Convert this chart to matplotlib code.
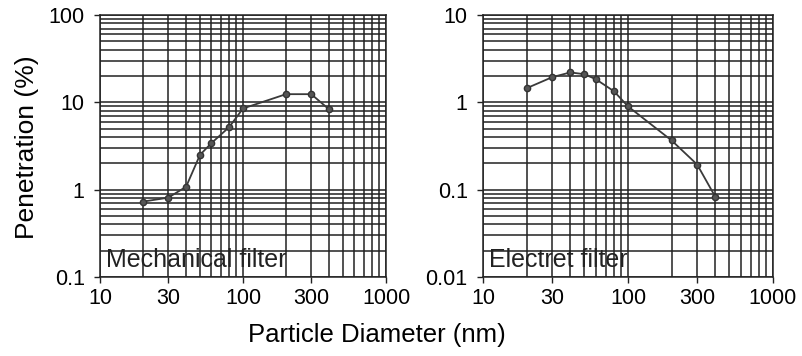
import matplotlib
matplotlib.use("Agg")
import matplotlib.pyplot as plt
from matplotlib.ticker import FixedLocator, FixedFormatter, LogLocator, NullFormatter

plt.rcParams['font.family'] = ['Liberation Sans', 'DejaVu Sans']

# particle diameters (nm)
mech_d = [20, 30, 40, 50, 60, 80, 100, 200, 300, 400]
mech_pen = [0.73, 0.81, 1.08, 2.5, 3.4, 5.2, 8.5, 12.4, 12.4, 8.3]

elec_d = [20, 30, 40, 50, 60, 80, 100, 200, 300, 400]
elec_pen = [1.45, 1.94, 2.2, 2.1, 1.84, 1.34, 0.90, 0.366, 0.194, 0.083]

x_ticks = [10, 30, 100, 300, 1000]
x_labels = ["10", "30", "100", "300", "1000"]

GRID = "#222222"
LINE = "#3a3a3a"


def setup(ax, ylim, yticks, ylabels, name):
    ax.set_xscale('log')
    ax.set_yscale('log')
    ax.set_xlim(10, 1000)
    ax.set_ylim(*ylim)
    ax.xaxis.set_major_locator(FixedLocator(x_ticks))
    ax.xaxis.set_major_formatter(FixedFormatter(x_labels))
    ax.xaxis.set_minor_locator(LogLocator(base=10, subs=range(1, 10)))
    ax.xaxis.set_minor_formatter(NullFormatter())
    ax.yaxis.set_major_locator(FixedLocator(yticks))
    ax.yaxis.set_major_formatter(FixedFormatter(ylabels))
    ax.yaxis.set_minor_locator(LogLocator(base=10, subs=range(1, 10)))
    ax.yaxis.set_minor_formatter(NullFormatter())
    ax.grid(True, which='both', color=GRID, linewidth=1.1)
    ax.set_axisbelow(True)
    ax.tick_params(which='minor', length=0)
    ax.tick_params(which='major', length=4, width=1.0, color=GRID, labelsize=15.5)
    ax.tick_params(axis='x', pad=4)
    ax.tick_params(axis='y', pad=7)
    for s in ax.spines.values():
        s.set_color(GRID)
        s.set_linewidth(1.1)
    ax.text(0.022, 0.02, name, transform=ax.transAxes, fontsize=18,
            color="#222222", ha='left', va='bottom')


fig = plt.figure(figsize=(8.02, 3.56), dpi=100)
ax1 = fig.add_axes([0.1247, 0.2219, 0.3566, 0.736])
ax2 = fig.add_axes([0.6022, 0.2219, 0.3616, 0.736])

setup(ax1, (0.1, 100), [0.1, 1, 10, 100], ["0.1", "1", "10", "100"], "Mechanical filter")
setup(ax2, (0.01, 10), [0.01, 0.1, 1, 10], ["0.01", "0.1", "1", "10"], "Electret filter")

ax1.plot(mech_d, mech_pen, '-o', color=LINE, markersize=4.5,
         markerfacecolor="#555555", markeredgecolor="#333333", linewidth=1.3)
ax2.plot(elec_d, elec_pen, '-o', color=LINE, markersize=4.5,
         markerfacecolor="#555555", markeredgecolor="#333333", linewidth=1.3)

fig.text(0.034, 0.587, "Penetration (%)", rotation=90, fontsize=19,
         ha='center', va='center')
fig.text(0.47, 0.06, "Particle Diameter (nm)", fontsize=18.5,
         ha='center', va='center')

fig.savefig("out.png", dpi=100)
